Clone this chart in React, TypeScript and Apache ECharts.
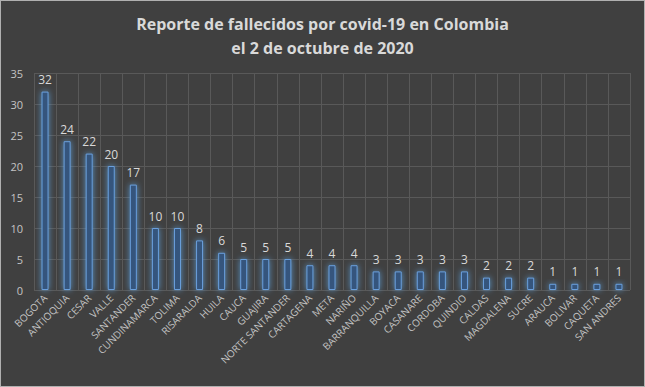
import React, { useEffect, useRef } from "react";
import * as echarts from "echarts";

const categories = [
  "BOGOTA", "ANTIOQUIA", "CESAR", "VALLE", "SANTANDER", "CUNDINAMARCA", "TOLIMA",
  "RISARALDA", "HUILA", "CAUCA", "GUAJIRA", "NORTE SANTANDER", "CARTAGENA", "META",
  "NARIÑO", "BARRANQUILLA", "BOYACA", "CASANARE", "CORDOBA", "QUINDIO", "CALDAS",
  "MAGDALENA", "SUCRE", "ARAUCA", "BOLIVAR", "CAQUETA", "SAN ANDRES",
];
const deaths = [32, 24, 22, 20, 17, 10, 10, 8, 6, 5, 5, 5, 4, 4, 4, 3, 3, 3, 3, 3, 2, 2, 2, 1, 1, 1, 1];
const titleLines = ["Reporte de fallecidos por covid-19 en Colombia", "el 2 de octubre de 2020"];

export default function App() {
  const ref = useRef<HTMLDivElement>(null);
  useEffect(() => {
    document.body.style.margin = "0";
    const chart = echarts.init(ref.current!, undefined, { renderer: "svg" });
    chart.setOption({
      animation: false,
      backgroundColor: "#404040",
      textStyle: { fontFamily: "Open Sans" },
      title: {
        text: titleLines.join("\n"),
        left: "center",
        top: 6,
        textStyle: {
          color: "#d9d9d9",
          fontSize: 16,
          fontWeight: "bold",
          lineHeight: 24,
          fontFamily: "Open Sans",
        },
      },
      grid: { left: 33, right: 14, top: 72, bottom: 96, containLabel: false },
      xAxis: {
        type: "category",
        data: categories,
        axisLine: { show: false },
        axisTick: { show: false },
        axisLabel: {
          interval: 0,
          rotate: 45,
          color: "#c4c4c4",
          fontSize: 10,
          margin: 6,
        },
        splitLine: { show: true, interval: 0, lineStyle: { color: "#595959", width: 1 } },
      },
      yAxis: {
        type: "value",
        min: 0,
        max: 35,
        interval: 5,
        axisLine: { show: false },
        axisTick: { show: false },
        axisLabel: { color: "#c4c4c4", fontSize: 11, margin: 11 },
        splitLine: { lineStyle: { color: "#595959", width: 1 } },
      },
      series: [
        {
          type: "bar",
          data: deaths,
          barWidth: 7,
          itemStyle: {
            color: "#35557d",
            borderColor: "#6a9fdc",
            borderWidth: 1,
            shadowColor: "rgba(91,155,213,0.9)",
            shadowBlur: 6,
          },
          label: {
            show: true,
            position: "top",
            distance: 6,
            color: "#d9d9d9",
            fontSize: 12,
          },
        },
      ],
    });
    return () => chart.dispose();
  }, []);
  return (
    <div
      style={{
        position: "absolute",
        left: 0,
        top: 0,
        width: 645,
        height: 387,
        boxSizing: "border-box",
        border: "1px solid #b0b0b0",
        background: "#404040",
      }}
    >
      <div ref={ref} style={{ width: 643, height: 385 }} />
    </div>
  );
}
